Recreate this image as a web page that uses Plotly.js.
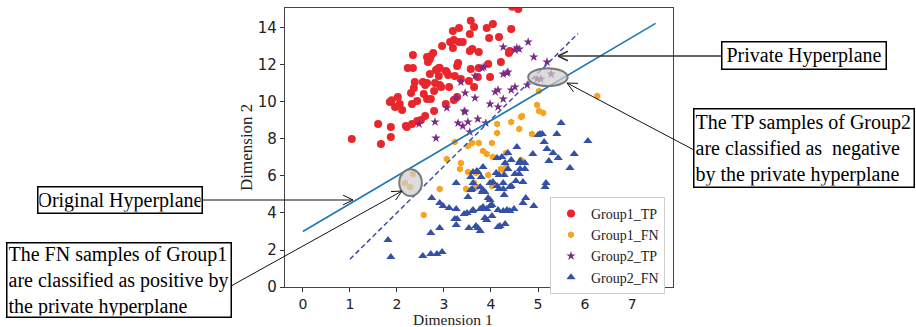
<!DOCTYPE html>
<html>
<head>
<meta charset="utf-8">
<script src="https://cdn.plot.ly/plotly-3.0.1.min.js"></script>
<style>html,body{margin:0;padding:0;background:#fff;}#chart{width:916px;height:327px;}</style>
</head>
<body>
<div id="chart"></div>
<script>
// ---- data ----
const group1TP_x = [1.04,1.66,1.60,1.87,1.87,1.85,1.89,2.02,1.96,2.06,2.11,2.21,2.19,2.32,2.43,2.51,2.60,2.30,2.32,2.43,2.36,2.38,2.23,2.34,2.34,2.55,2.64,2.60,2.81,2.57,2.64,2.72,2.79,2.79,2.64,2.72,2.77,2.66,2.70,2.70,2.83,2.89,2.89,2.91,2.94,2.96,3.06,3.09,3.11,3.04,3.13,3.21,3.32,3.40,3.19,3.32,3.19,3.30,3.28,3.23,3.36,3.21,3.28,3.53,3.57,3.64,3.57,3.64,3.55,3.60,3.55,3.74,3.74,3.98,3.94,4.21,3.96,4.17,4.04,3.91,4.43,4.40,4.38,4.45,4.58,3.04,2.91,3.72];
const group1TP_y = [8.00,7.73,8.81,8.11,8.65,10.00,10.10,10.27,9.73,9.89,9.57,8.65,8.70,8.81,8.97,9.03,9.24,10.49,9.89,10.05,10.76,11.08,11.84,11.84,12.54,11.08,11.03,10.92,11.03,10.43,10.16,10.16,10.59,9.51,12.43,12.49,12.65,12.16,12.32,11.51,11.73,11.84,11.41,10.92,10.81,13.03,11.62,11.46,10.81,9.89,13.24,13.35,13.24,13.24,13.84,14.00,12.92,12.11,11.95,11.41,11.24,10.11,10.27,11.14,11.78,10.81,14.39,14.05,13.68,12.86,12.76,12.70,11.84,11.35,12.05,12.16,13.46,13.51,14.22,14.00,13.95,12.76,12.65,15.15,15.02,11.68,11.84,11.35];

const group1FN_x = [5.02,6.26,4.98,5.02,5.11,4.64,4.66,4.43,4.60,4.87,4.13,4.13,4.02,3.74,3.23,3.60,3.51,3.83,3.91,4.04,3.06,3.36,3.34,3.51,3.68,3.47,3.70,2.91,2.57,2.34,2.17,2.28,3.64,3.94,4.26,4.21,4.32,4.02,4.32,4.64];
const group1FN_y = [10.59,10.32,9.84,9.51,9.41,9.19,9.24,8.92,8.54,8.27,8.81,8.32,7.78,7.78,7.84,7.78,7.62,7.35,7.19,7.03,6.92,6.70,6.38,6.22,6.16,5.30,5.41,5.30,3.89,6.11,5.62,5.41,5.62,6.05,6.32,6.38,6.49,5.46,7.24,6.86];

const group2TP_x = [4.79,4.55,4.60,4.51,4.26,4.91,5.19,3.85,3.81,3.66,4.26,4.36,4.34,3.36,4.51,4.43,4.77,4.15,4.09,3.45,3.66,3.26,4.26,3.98,4.15,3.06,3.43,3.45,3.72,3.51,3.30,3.40,3.89,3.55,4.98,5.06,5.28,2.47,2.81,2.83];
const group2TP_y = [13.24,12.92,12.86,12.81,12.97,12.43,12.16,11.89,11.84,11.41,11.51,11.62,11.57,11.08,10.81,10.65,10.92,10.65,10.54,10.49,10.22,10.22,10.16,9.89,9.73,9.68,9.51,9.46,9.08,8.92,8.86,8.70,8.86,8.38,11.24,11.24,11.51,8.81,8.92,8.05];

const group2FN_x = [5.49,5.04,5.00,5.09,5.40,6.06,5.13,5.19,5.32,5.43,5.77,5.23,4.55,4.36,4.89,4.23,4.13,4.62,4.60,4.72,4.43,4.30,3.83,3.70,3.72,3.62,4.62,4.36,4.11,4.17,4.28,4.60,4.04,3.98,4.26,4.13,4.17,4.26,4.43,4.40,4.68,4.53,5.68,5.17,5.15,3.26,3.62,3.77,3.83,3.87,3.81,3.60,3.94,3.98,3.51,4.02,3.98,4.74,4.68,4.91,3.11,3.26,3.43,3.49,3.60,3.62,3.77,3.83,3.91,4.15,4.26,4.34,4.40,4.49,3.23,3.26,3.87,3.91,4.02,4.15,4.19,4.30,3.53,3.68,3.72,3.77,2.91,2.96,2.74,2.91,2.98,3.28,2.72,1.81,1.87,2.55,2.72,2.85,3.57,3.57,3.79,4.72,4.51,4.28];
const group2FN_y = [8.86,8.27,8.22,8.27,8.27,7.89,7.84,7.46,7.24,6.97,7.19,6.81,7.57,7.24,7.19,7.03,6.97,6.81,6.70,6.70,6.86,6.70,6.49,6.27,6.22,6.22,6.38,6.38,6.16,6.05,6.05,6.11,5.68,5.62,5.62,5.46,5.30,5.30,5.46,5.41,5.68,5.73,6.43,5.62,5.41,5.62,5.62,5.41,5.24,5.14,5.14,5.30,4.81,4.70,4.86,4.43,4.38,4.81,4.54,4.38,4.27,4.22,3.95,4.00,4.11,4.16,4.22,4.32,4.22,4.16,4.11,4.16,4.11,4.22,3.68,3.35,3.73,3.62,3.84,3.24,3.30,3.41,3.19,3.30,3.19,3.03,3.19,1.89,4.81,4.54,4.38,3.68,2.92,2.54,1.62,1.68,1.78,1.78,5.24,5.95,5.95,6.38,6.11,4.97];

const originalHyperplane_x = [0, 7.5];
const originalHyperplane_y = [3.0, 14.25];
const privateHyperplane_x = [1.0, 5.85];
const privateHyperplane_y = [1.5, 13.7];

const xTicks = [0,1,2,3,4,5,6,7];
const yTicks = [0,2,4,6,8,10,12,14];

// ---- layout helpers (pixel -> paper) ----
const L = 285, R = 673, T = 8, B = 287;
const W = R - L, H = B - T;
const px = x => (x - L) / W;
const py = y => (B - y) / H;

function arrowShapes(tail, head, color, width) {
  const dx = head[0] - tail[0], dy = head[1] - tail[1];
  const len = Math.hypot(dx, dy), ux = dx / len, uy = dy / len;
  const a = 26 * Math.PI / 180, armLen = 11;
  const arm = s => {
    const c = Math.cos(s * a), sn = Math.sin(s * a);
    const rx = ux * c - uy * sn, ry = ux * sn + uy * c;
    return [head[0] - armLen * rx, head[1] - armLen * ry];
  };
  const ln = {color: color, width: width};
  const mk = (p, q) => ({type: 'line', xref: 'paper', yref: 'paper',
    x0: px(p[0]), y0: py(p[1]), x1: px(q[0]), y1: py(q[1]), line: ln, layer: 'above'});
  return [mk(tail, head), mk(arm(1), head), mk(arm(-1), head)];
}

const serif = 'Liberation Serif, Times New Roman, serif';

const traces = [
  {x: group1TP_x, y: group1TP_y, name: 'Group1_TP', type: 'scatter', mode: 'markers',
   marker: {color: '#e8262b', size: 8, symbol: 'circle', line: {width: 0}}},
  {x: group1FN_x, y: group1FN_y, name: 'Group1_FN', type: 'scatter', mode: 'markers',
   marker: {color: '#f7a320', size: 7, symbol: 'hexagon', line: {width: 0}}},
  {x: group2TP_x, y: group2TP_y, name: 'Group2_TP', type: 'scatter', mode: 'markers',
   marker: {color: '#7b2a86', size: 7, symbol: 'star', line: {width: 0}}},
  {x: group2FN_x, y: group2FN_y, name: 'Group2_FN', type: 'scatter', mode: 'markers',
   marker: {color: '#3551a5', size: 8, symbol: 'triangle-up', line: {width: 0}}},
  {x: originalHyperplane_x, y: originalHyperplane_y, type: 'scatter', mode: 'lines', showlegend: false,
   line: {color: '#1f77b4', width: 1.6}},
  {x: privateHyperplane_x, y: privateHyperplane_y, type: 'scatter', mode: 'lines', showlegend: false,
   line: {color: '#3b4fa3', width: 1.5, dash: '5px,3px'}}
];

const shapes = [
  {type: 'circle', xref: 'x', yref: 'y', x0: 2.05, x1: 2.53, y0: 4.92, y1: 6.36,
   fillcolor: 'rgba(205,205,205,0.7)', line: {color: '#7a7a7a', width: 2}, layer: 'above'},
  {type: 'circle', xref: 'x', yref: 'y', x0: 4.79, x1: 5.63, y0: 10.86, y1: 11.82,
   fillcolor: 'rgba(205,205,205,0.7)', line: {color: '#7a7a7a', width: 2}, layer: 'above'}
].concat(
  arrowShapes([721, 56], [558, 56], '#333', 1.6),
  arrowShapes([694, 150], [567, 83], '#111', 1),
  arrowShapes([202, 200], [353, 200], '#111', 1),
  arrowShapes([231, 286], [402, 191], '#111', 1)
);

const boxFont = {family: serif, size: 20, color: '#000'};
function box(cx, cy, text, w, h, align) {
  return {xref: 'paper', yref: 'paper', x: px(cx), y: py(cy), xanchor: 'center', yanchor: 'middle',
    text: text, showarrow: false, font: boxFont, align: align || 'center',
    bordercolor: '#000', borderwidth: 1.5, borderpad: 1, bgcolor: '#fff', width: w, height: h};
}

const annotations = [
  box(803.5, 55.5, 'Private Hyperplane', 161, 24),
  box(804, 147.5, 'The TP samples of Group2<br>are classified as&nbsp; negative<br>by the private hyperplane', 217, 75, 'left'),
  box(119.5, 200, 'Original Hyperplane', 161, 23),
  box(119, 280, 'The FN samples of Group1<br>are classified as positive by<br>the private hyperplane', 221, 71, 'left'),
  {xref: 'paper', yref: 'paper', x: px(453), y: py(319.5), xanchor: 'center', yanchor: 'middle',
   text: 'Dimension 1', showarrow: false, font: {family: serif, size: 15.5, color: '#222'}},
  {xref: 'paper', yref: 'paper', x: px(246), y: py(148), xanchor: 'center', yanchor: 'middle',
   text: 'Dimension 2', textangle: -90, showarrow: false, font: {family: serif, size: 17, color: '#222'}}
];

const layout = {
  width: 916, height: 327,
  margin: {l: L, r: 916 - R, t: T, b: 327 - B, pad: 0},
  paper_bgcolor: '#fff', plot_bgcolor: '#fff',
  showlegend: true,
  legend: {x: px(550), y: py(197), xanchor: 'left', yanchor: 'top',
    font: {family: serif, size: 14, color: '#222'}, bgcolor: '#fff', bordercolor: '#cfcfcf', borderwidth: 1},
  xaxis: {range: [-0.38, 7.87], tickvals: xTicks, ticktext: xTicks.map(String), ticks: 'outside', ticklen: 4,
    tickcolor: '#333', tickfont: {family: 'DejaVu Sans', size: 14, color: '#222'},
    showgrid: false, zeroline: false, showline: true, linecolor: '#444', linewidth: 1.2, mirror: true},
  yaxis: {range: [0, 15.08], tickvals: yTicks, ticktext: yTicks.map(String), ticks: 'outside', ticklen: 4,
    tickcolor: '#333', tickfont: {family: 'DejaVu Sans', size: 15, color: '#222'},
    showgrid: false, zeroline: false, showline: true, linecolor: '#444', linewidth: 1.2, mirror: true},
  shapes: shapes,
  annotations: annotations
};

Plotly.newPlot('chart', traces, layout, {staticPlot: true, displayModeBar: false});
</script>
</body>
</html>
